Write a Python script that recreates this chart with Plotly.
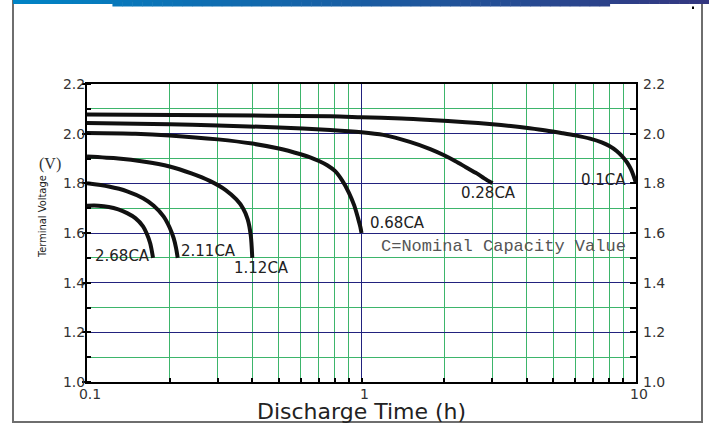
import math
import plotly.graph_objects as go

# ---------------- data ----------------
t_010 = [0.1, 0.3, 0.77, 1.0, 1.4, 1.78, 2.4, 3.0, 3.5, 4.1, 4.7, 5.4, 6.0, 6.8, 7.5, 8.0, 8.5, 9.0, 9.3, 9.6, 9.8, 10.0]
v_010 = [2.077, 2.074, 2.07, 2.066, 2.061, 2.055, 2.046, 2.038, 2.031, 2.022, 2.013, 2.002, 1.993, 1.98, 1.965,
         1.95, 1.93, 1.903, 1.882, 1.855, 1.83, 1.80]

t_028 = [0.1, 0.2, 0.3, 0.5, 0.77, 1.0, 1.2, 1.5, 1.78, 2.0, 2.2, 2.4, 2.63, 2.8, 3.0]
v_028 = [2.043, 2.038, 2.033, 2.025, 2.015, 2.006, 1.995, 1.967, 1.938, 1.913, 1.889, 1.865, 1.84, 1.82, 1.80]

t_068 = [0.1, 0.15, 0.2, 0.3, 0.4, 0.5, 0.6, 0.65, 0.7, 0.75, 0.8, 0.85, 0.9, 0.94, 0.97, 0.99, 1.0]
v_068 = [2.003, 2.0, 1.993, 1.977, 1.96, 1.94, 1.917, 1.905, 1.89, 1.873, 1.85, 1.812, 1.762, 1.712, 1.662, 1.625, 1.60]

t_112 = [0.1, 0.13, 0.16, 0.2, 0.24, 0.28, 0.32, 0.35, 0.37, 0.385, 0.395, 0.40]
v_112 = [1.908, 1.90, 1.888, 1.868, 1.84, 1.81, 1.773, 1.735, 1.70, 1.655, 1.59, 1.50]

t_211 = [0.1, 0.12, 0.14, 0.16, 0.175, 0.19, 0.2, 0.207, 0.211, 0.214]
v_211 = [1.80, 1.787, 1.768, 1.74, 1.71, 1.667, 1.622, 1.578, 1.54, 1.50]

t_268 = [0.1, 0.11, 0.12, 0.13, 0.14, 0.15, 0.16, 0.165, 0.17, 0.174]
v_268 = [1.71, 1.71, 1.705, 1.695, 1.68, 1.66, 1.627, 1.598, 1.558, 1.50]

curve_names = ["0.1CA", "0.28CA", "0.68CA", "1.12CA", "2.11CA", "2.68CA"]
curve_t = [t_010, t_028, t_068, t_112, t_211, t_268]
curve_v = [v_010, v_028, v_068, v_112, v_211, v_268]

# label anchor points (time in h, voltage)
label_t = [7.64, 2.91, 1.35, 0.431, 0.276, 0.135]
label_v = [1.813, 1.762, 1.641, 1.46, 1.527, 1.509]

x_tickvals = [0.1, 1, 10]
x_ticktext = ["0.1", "1", "10"]
x_minorvals = [0.2, 0.3, 0.4, 0.5, 0.6, 0.7, 0.8, 0.9, 2, 3, 4, 5, 6, 7, 8, 9]
y_tickvals = [1.0, 1.2, 1.4, 1.6, 1.8, 2.0, 2.2]

GREEN = "#3db56b"
NAVY = "#22227e"

# ---------------- figure ----------------
W, H = 709, 424
L, R, T, B = 87, 73, 84, 42
PW, PH = W - L - R, H - T - B


def px(x):
    return (x - L) / PW


def py(y):
    return (H - B - y) / PH


fig = go.Figure()
for name, tt, vv in zip(curve_names, curve_t, curve_v):
    fig.add_trace(go.Scatter(x=tt, y=vv, mode="lines", name=name,
                             line=dict(color="#111111", width=4, shape="spline", smoothing=0.8),
                             showlegend=False, hoverinfo="skip"))
# invisible trace so the right axis is drawn
fig.add_trace(go.Scatter(x=[0.1], y=[1.0], yaxis="y2", mode="markers",
                         marker=dict(opacity=0), showlegend=False, hoverinfo="skip"))

tickfont = dict(family="DejaVu Sans, Arial", size=14, color="#333333")

fig.update_layout(
    width=W, height=H,
    margin=dict(l=L, r=R, t=T, b=B),
    paper_bgcolor="white", plot_bgcolor="white",
    xaxis=dict(type="log", range=[-1, 1], tickvals=x_tickvals, ticktext=x_ticktext,
               ticks="inside", ticklen=4, tickcolor="black", tickwidth=2,
               showline=True, linecolor="black", linewidth=2, mirror=True,
               showgrid=True, gridcolor=NAVY, gridwidth=1, zeroline=False,
               tickfont=tickfont, ticklabelshift=3, ticklabelstandoff=-2,
               minor=dict(tickvals=x_minorvals, ticks="inside", ticklen=4,
                          tickcolor="black", tickwidth=2,
                          showgrid=True, gridcolor=GREEN, gridwidth=1)),
    yaxis=dict(range=[1.0, 2.2], tickvals=y_tickvals, tickformat=".1f",
               ticks="outside", ticklen=3, tickcolor="black", tickwidth=2,
               showline=True, linecolor="black", linewidth=2, mirror=True,
               showgrid=True, gridcolor=NAVY, gridwidth=1, zeroline=False,
               tickfont=tickfont, ticklabelstandoff=-6,
               minor=dict(dtick=0.1, tick0=1.0, ticks="inside", ticklen=4,
                          tickcolor="black", tickwidth=2,
                          showgrid=True, gridcolor=GREEN, gridwidth=1)),
    yaxis2=dict(range=[1.0, 2.2], tickvals=y_tickvals, tickformat=".1f",
                overlaying="y", side="right", showgrid=False, zeroline=False,
                ticks="inside", ticklen=6, tickcolor="black", tickwidth=2,
                tickfont=tickfont, ticklabelstandoff=6,
                minor=dict(dtick=0.1, tick0=1.0, ticks="inside", ticklen=6,
                           tickcolor="black", tickwidth=2)),
)

# curve labels
lab_font = dict(family="DejaVu Sans, Arial", size=15, color="#222222")
for name, lt, lv in zip(curve_names, label_t, label_v):
    fig.add_annotation(x=math.log10(lt), y=lv, xref="x", yref="y", text=name,
                       showarrow=False, font=lab_font, xanchor="center", yanchor="middle")

fig.add_annotation(x=math.log10(3.30), y=1.545, xref="x", yref="y",
                   text="C=Nominal Capacity Value", showarrow=False,
                   font=dict(family="Liberation Mono, Courier New", size=17, color="#555555"),
                   xanchor="center", yanchor="middle")

# axis texts
fig.add_annotation(x=px(361), y=py(411), xref="paper", yref="paper",
                   text="Discharge Time (h)", showarrow=False,
                   font=dict(family="DejaVu Sans, Arial", size=22, color="#222222"),
                   xanchor="center", yanchor="middle")
fig.add_annotation(x=px(42), y=py(217), xref="paper", yref="paper",
                   text="Terminal Voltage", showarrow=False, textangle=-90,
                   font=dict(family="Liberation Sans Narrow, DejaVu Sans Condensed, Arial", size=11,
                             color="#222222"),
                   xanchor="center", yanchor="middle")
fig.add_annotation(x=px(50), y=py(164), xref="paper", yref="paper",
                   text="(V)", showarrow=False,
                   font=dict(family="Liberation Serif, Times New Roman", size=16, color="#333333"),
                   xanchor="center", yanchor="middle")

# outer frame
shapes = [dict(type="rect", xref="paper", yref="paper",
               x0=px(13), x1=px(702), y0=py(422), y1=py(1),
               line=dict(color="#6e6e6e", width=2), fillcolor="rgba(0,0,0,0)", layer="below")]


# top gradient banner
def lerp(c1, c2, f):
    return "rgb(%d,%d,%d)" % tuple(round(a + (b - a) * f) for a, b in zip(c1, c2))


c_left, c_right = (0, 132, 198), (52, 54, 128)
N = 70
x_start, x_end = 13, 709
for i in range(N):
    a = x_start + (x_end - x_start) * i / N
    b = x_start + (x_end - x_start) * (i + 1) / N + 0.5
    mid = (a + b) / 2
    f = (mid - x_start) / (x_end - x_start)
    top_h = 6.5 if (117 <= mid <= 606) else 4
    shapes.append(dict(type="rect", xref="paper", yref="paper",
                       x0=px(a), x1=px(b), y0=py(top_h), y1=py(0),
                       line=dict(width=0), fillcolor=lerp(c_left, c_right, f), layer="above"))
shapes.append(dict(type="rect", xref="paper", yref="paper",
                   x0=px(692), x1=px(694), y0=py(9), y1=py(6.5),
                   line=dict(width=0), fillcolor="black"))
fig.update_layout(shapes=shapes)

fig.write_html("out.html", config={"displayModeBar": False},
               post_script="document.body.style.margin='0';")
